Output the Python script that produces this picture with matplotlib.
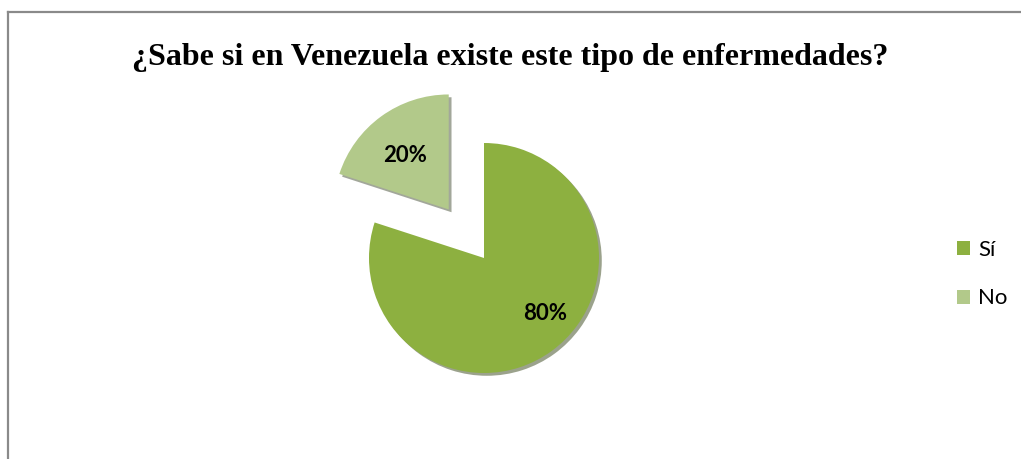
import matplotlib
matplotlib.use("Agg")
import matplotlib.pyplot as plt
from matplotlib.lines import Line2D

# data
labels = ["Sí", "No"]
values = [80, 20]
colors = ["#8DB040", "#B2C98A"]

W, H = 1021, 459
fig = plt.figure(figsize=(W / 100, H / 100), dpi=100)
ax = fig.add_axes([0, 0, 1, 1])

# pie in pixel-like data coords (y up); explode is in data units here
cx, cy, r = 484, H - 258, 115
wedges, texts, autotexts = ax.pie(
    values, colors=colors, startangle=90, counterclock=False,
    center=(cx, cy), radius=r, explode=[0, 60],
    autopct="%d%%", pctdistance=0.66,
    shadow={"ox": 2.0, "oy": -2.0, "shade": 0.6},
    wedgeprops=dict(linewidth=0),
    textprops=dict(family="Lato", fontsize=16, fontweight="bold", color="black"),
)
ax.set_xlim(0, W)
ax.set_ylim(0, H)
ax.set_aspect("equal")
ax.axis("off")

# put labels where Excel put them
autotexts[0].set_position((545, H - 313))
autotexts[1].set_position((405, H - 155))

fig.text(510 / W, 1 - 57 / H, "¿Sabe si en Venezuela existe este tipo de enfermedades?",
         ha="center", va="center", family="Liberation Serif", fontweight="bold", fontsize=23)

leg = ax.legend(wedges, labels, loc="center left", bbox_to_anchor=(937 / W, 1 - 274 / H),
                frameon=False, prop=dict(family="Lato", size=16),
                handlelength=0.6, handleheight=0.6, handletextpad=0.35, labelspacing=1.3)

# chart frame: only top and left edges are visible in the crop
fig.add_artist(Line2D([8 / W, 1], [1 - 12 / H, 1 - 12 / H], color="#8A8A8A", lw=1.6,
                      transform=fig.transFigure))
fig.add_artist(Line2D([8 / W, 8 / W], [0, 1 - 12 / H], color="#8A8A8A", lw=1.6,
                      transform=fig.transFigure))

fig.savefig("out.png", dpi=100)
